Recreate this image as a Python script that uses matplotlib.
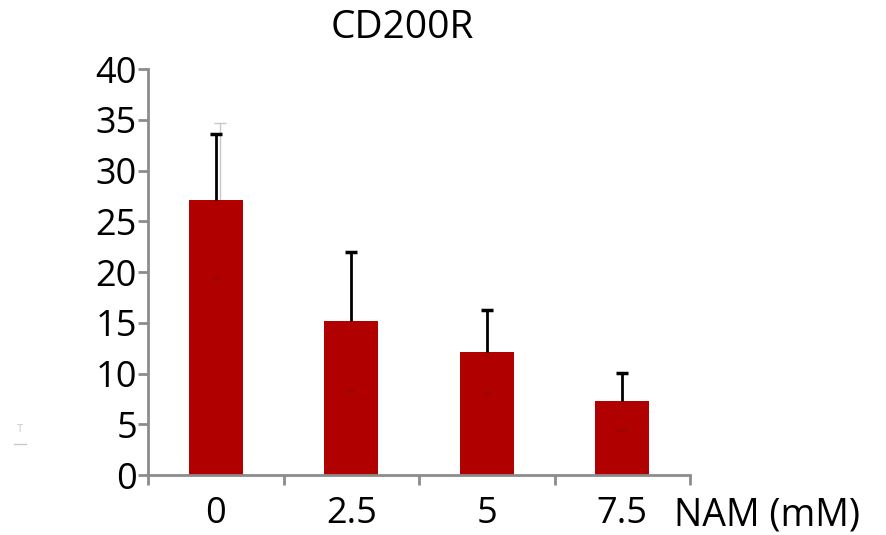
import numpy as np
import matplotlib.pyplot as plt

categories = ["0", "2.5", "5", "7.5"]
values = [27.1, 15.2, 12.1, 7.3]
err_upper = [6.5, 6.8, 4.2, 2.8]
err_lower = [7.7, 6.8, 4.0, 2.9]
faint_upper = [7.6, 0, 0, 0]  # pale grey cap above the first bar

plt.rcParams['font.family'] = ['Open Sans', 'DejaVu Sans']

fig = plt.figure(figsize=(8.87, 5.35), dpi=100)
ax = fig.add_axes([0.1669, 0.1121, 0.6110, 0.7589])

x = np.arange(len(categories))
red = '#b00000'
ax.bar(x, values, width=0.4, color=red, zorder=2)

vals = np.array(values)
tops = vals + np.array(err_upper)

# faint grey error bar (first bar only)
ax.vlines(x[0] + 0.03, vals[0], vals[0] + faint_upper[0], color='#c8c8c8', lw=1, zorder=1)
ax.plot(x[0] + 0.03, vals[0] + faint_upper[0], linestyle='none', marker='_',
        markersize=8, mew=1, color='#c8c8c8', zorder=1)

# upper error bars only
ax.vlines(x, vals, tops, color='black', lw=2, zorder=3)
ax.plot(x, tops, linestyle='none', marker='_', markersize=9, mew=2.5,
        color='black', zorder=3)

# lower caps, barely visible inside the bars
lower = vals - np.array(err_lower)
ax.plot(x, lower, linestyle='none', marker='_', markersize=7,
        color='#7a1010', alpha=0.6, zorder=3)

ax.set_xlim(-0.5, len(categories) - 0.5)
ax.set_ylim(0, 40)
ax.set_yticks(np.arange(0, 41, 5))
ax.set_xticks(x)
ax.set_xticklabels(categories)
ax.set_xticks(np.arange(-0.5, len(categories)), minor=True)

for s in ['top', 'right']:
    ax.spines[s].set_visible(False)
for s in ['left', 'bottom']:
    ax.spines[s].set_color('#8c8c8c')
    ax.spines[s].set_linewidth(2)

ax.tick_params(axis='y', which='major', length=7, width=2, color='#8c8c8c',
               labelsize=26, pad=1)
ax.tick_params(axis='x', which='major', length=0, labelsize=26, pad=15)
ax.tick_params(axis='x', which='minor', length=7, width=2, color='#8c8c8c')

ax.set_title('CD200R', fontsize=28, pad=22, x=0.47)
ax.text(0.97, -0.100, 'NAM (mM)', transform=ax.transAxes, fontsize=27,
        ha='left', va='center')

# small pale legend remnant on the left
fig.text(0.023, 0.197, 'T', fontsize=8, color='#c8c8c8', ha='center', va='center')
fig.lines.append(plt.Line2D([0.016, 0.029], [0.170, 0.170], transform=fig.transFigure,
                            color='#c8c8c8', linewidth=1))

fig.savefig('out.png', dpi=100)
